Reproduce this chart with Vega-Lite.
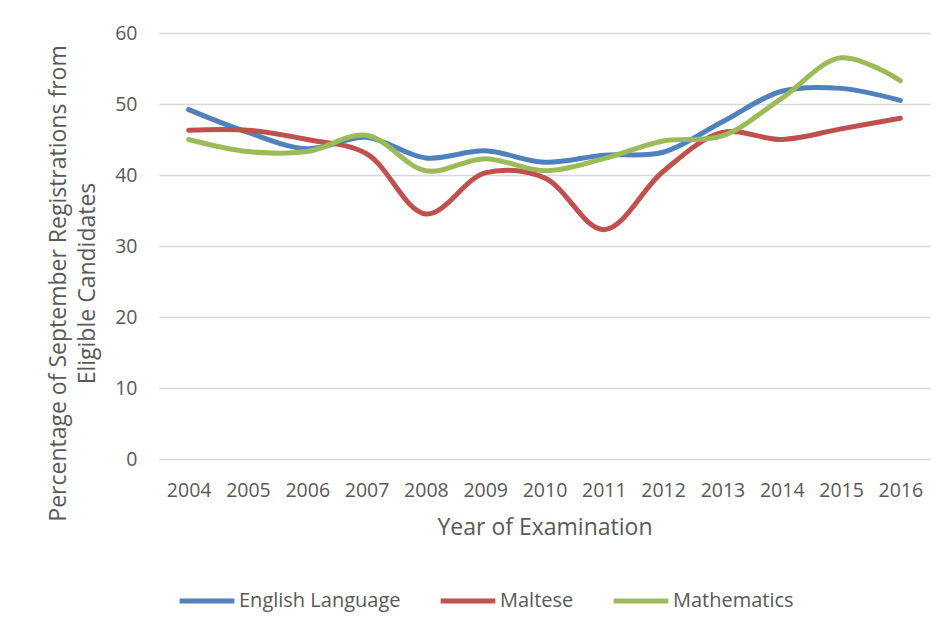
{
  "$schema": "https://vega.github.io/schema/vega-lite/v6.json",
  "width": 771,
  "height": 426,
  "autosize": {"type": "none"},
  "padding": {"left": 159, "top": 33, "right": 19, "bottom": 177},
  "background": "white",
  "data": {
    "values": [
      {"year": "2004", "subject": "English Language", "value": 49.2},
      {"year": "2005", "subject": "English Language", "value": 46.0},
      {"year": "2006", "subject": "English Language", "value": 43.7},
      {"year": "2007", "subject": "English Language", "value": 45.3},
      {"year": "2008", "subject": "English Language", "value": 42.4},
      {"year": "2009", "subject": "English Language", "value": 43.4},
      {"year": "2010", "subject": "English Language", "value": 41.8},
      {"year": "2011", "subject": "English Language", "value": 42.8},
      {"year": "2012", "subject": "English Language", "value": 43.2},
      {"year": "2013", "subject": "English Language", "value": 47.5},
      {"year": "2014", "subject": "English Language", "value": 51.8},
      {"year": "2015", "subject": "English Language", "value": 52.2},
      {"year": "2016", "subject": "English Language", "value": 50.5},
      {"year": "2004", "subject": "Maltese", "value": 46.3},
      {"year": "2005", "subject": "Maltese", "value": 46.3},
      {"year": "2006", "subject": "Maltese", "value": 45.0},
      {"year": "2007", "subject": "Maltese", "value": 43.0},
      {"year": "2008", "subject": "Maltese", "value": 34.5},
      {"year": "2009", "subject": "Maltese", "value": 40.3},
      {"year": "2010", "subject": "Maltese", "value": 39.6},
      {"year": "2011", "subject": "Maltese", "value": 32.3},
      {"year": "2012", "subject": "Maltese", "value": 40.5},
      {"year": "2013", "subject": "Maltese", "value": 46.0},
      {"year": "2014", "subject": "Maltese", "value": 45.0},
      {"year": "2015", "subject": "Maltese", "value": 46.5},
      {"year": "2016", "subject": "Maltese", "value": 48.0},
      {"year": "2004", "subject": "Mathematics", "value": 45.0},
      {"year": "2005", "subject": "Mathematics", "value": 43.3},
      {"year": "2006", "subject": "Mathematics", "value": 43.3},
      {"year": "2007", "subject": "Mathematics", "value": 45.6},
      {"year": "2008", "subject": "Mathematics", "value": 40.6},
      {"year": "2009", "subject": "Mathematics", "value": 42.3},
      {"year": "2010", "subject": "Mathematics", "value": 40.6},
      {"year": "2011", "subject": "Mathematics", "value": 42.3},
      {"year": "2012", "subject": "Mathematics", "value": 44.8},
      {"year": "2013", "subject": "Mathematics", "value": 45.5},
      {"year": "2014", "subject": "Mathematics", "value": 50.8},
      {"year": "2015", "subject": "Mathematics", "value": 56.5},
      {"year": "2016", "subject": "Mathematics", "value": 53.3}
    ]
  },
  "mark": {"type": "line", "interpolate": "catmull-rom", "strokeWidth": 5, "strokeCap": "round"},
  "encoding": {
    "x": {
      "field": "year",
      "type": "ordinal",
      "scale": {"type": "point", "padding": 0.5},
      "axis": {
        "title": "Year of Examination",
        "labelAngle": 0,
        "labelFont": "Open Sans",
        "labelFontSize": 19.5,
        "labelColor": "#595959",
        "labelPadding": 22,
        "ticks": false,
        "domain": false,
        "grid": false,
        "titleFont": "Open Sans",
        "titleFontSize": 23,
        "titleFontWeight": "normal",
        "titleColor": "#595959",
        "titlePadding": 17
      }
    },
    "y": {
      "field": "value",
      "type": "quantitative",
      "scale": {"domain": [0, 60]},
      "axis": {
        "title": ["Percentage of September Registrations from", "Eligible Candidates"],
        "values": [0, 10, 20, 30, 40, 50, 60],
        "labelFont": "Open Sans",
        "labelFontSize": 19.5,
        "labelColor": "#595959",
        "labelPadding": 22,
        "ticks": false,
        "domain": false,
        "grid": true,
        "gridColor": "#D9D9D9",
        "gridWidth": 1.5,
        "titleFont": "Open Sans",
        "titleFontSize": 23,
        "titleFontWeight": "normal",
        "titleColor": "#595959",
        "titleAngle": -90,
        "titleAlign": "center",
        "titleBaseline": "alphabetic",
        "titleLineHeight": 29,
        "titleX": -94,
        "titleY": 250
      }
    },
    "color": {
      "field": "subject",
      "type": "nominal",
      "scale": {
        "domain": ["English Language", "Maltese", "Mathematics"],
        "range": ["#4F81BD", "#C0504D", "#9BBB59"]
      },
      "legend": {
        "title": null,
        "orient": "none",
        "direction": "horizontal",
        "legendX": 18,
        "legendY": 538,
        "padding": 0,
        "symbolType": "stroke",
        "symbolSize": 3000,
        "symbolStrokeWidth": 5,
        "labelFont": "Open Sans",
        "labelFontSize": 20,
        "labelLimit": 400,
        "labelColor": "#595959",
        "labelOffset": 2,
        "columnPadding": 29
      }
    }
  },
  "config": {"view": {"stroke": null}}
}
